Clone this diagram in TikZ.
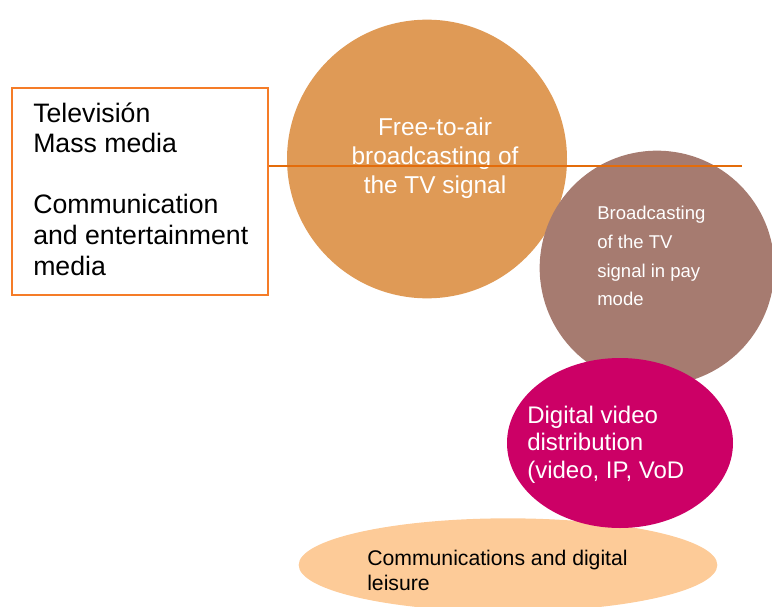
\documentclass[tikz,border=0pt]{standalone}
\usepackage{fontspec}
\setmainfont{Liberation Sans}
\usetikzlibrary{
  positioning,
  shapes.geometric,
  calc
}
\definecolor{tvOrange}{HTML}{DF9A56}
\definecolor{tvBrown}{HTML}{A67B70}
\definecolor{tvMagenta}{HTML}{CC0066}
\definecolor{tvPeach}{HTML}{FDCB98}
\definecolor{tvLine}{HTML}{E46C0A}
\definecolor{tvFrame}{HTML}{F57C28}

\begin{document}
\begin{tikzpicture}[
  x=0.75pt, y=-0.75pt,
  every node/.style={inner sep=0pt},
  frame/.style={
    rectangle, draw=tvFrame, line width=1.2pt,
    minimum width=192pt, minimum height=155.25pt
  },
  blob/.style={ellipse, draw=none},
  whitetext/.style={text=white, align=left},
  connector/.style={draw=tvLine, line width=2.2pt}
]
 \useasboundingbox (0,0) rectangle (772,607);

 % Left box
 \node[frame] (media) at (140,191.5) {};
 \node[anchor=base west, align=left, font=\fontsize{20}{22.9}\selectfont]
  (mediatxt) at (33,275)
  {Televisión\\Mass media\\[22.9pt]Communication\\and entertainment\\media};

 % Circles
 \node[blob, fill=tvOrange, minimum width=210pt, minimum height=209pt]
  (fta) at (427,159) {};
 \node[blob, fill=tvBrown, minimum width=176pt, minimum height=176pt]
  (pay) at (657,268) {};
 \node[blob, fill=tvPeach, minimum width=314pt, minimum height=70pt]
  (leisure) at (508,565) {};
 \node[blob, fill=tvMagenta, minimum width=169.5pt, minimum height=127.5pt]
  (video) at (620,443) {};

 % Texts (anchored on the last line)
 \node[anchor=base, align=center, text=white,
  font=\fontsize{18.3}{21.75}\selectfont] (ftatxt) at (435,193)
  {Free-to-air\\broadcasting of\\the TV signal};
 \node[anchor=base west, whitetext,
  font=\fontsize{13.9}{21.5}\selectfont] (paytxt) at (597,305.7)
  {Broadcasting\\of the TV\\signal in pay\\mode};
 \node[anchor=base west, whitetext,
  font=\fontsize{18}{20.6}\selectfont] (videotxt) at (527,478)
  {Digital video\\distribution\\(video, IP, VoD};
 \node[anchor=base west, align=left,
  font=\fontsize{15.9}{18.75}\selectfont] (leisuretxt) at (367,590)
  {Communications and digital\\leisure};

 % Connector
 \coordinate (lineend) at (742,166);
 \draw[connector] (media.east |- lineend) -- (lineend);
\end{tikzpicture}
\end{document}
